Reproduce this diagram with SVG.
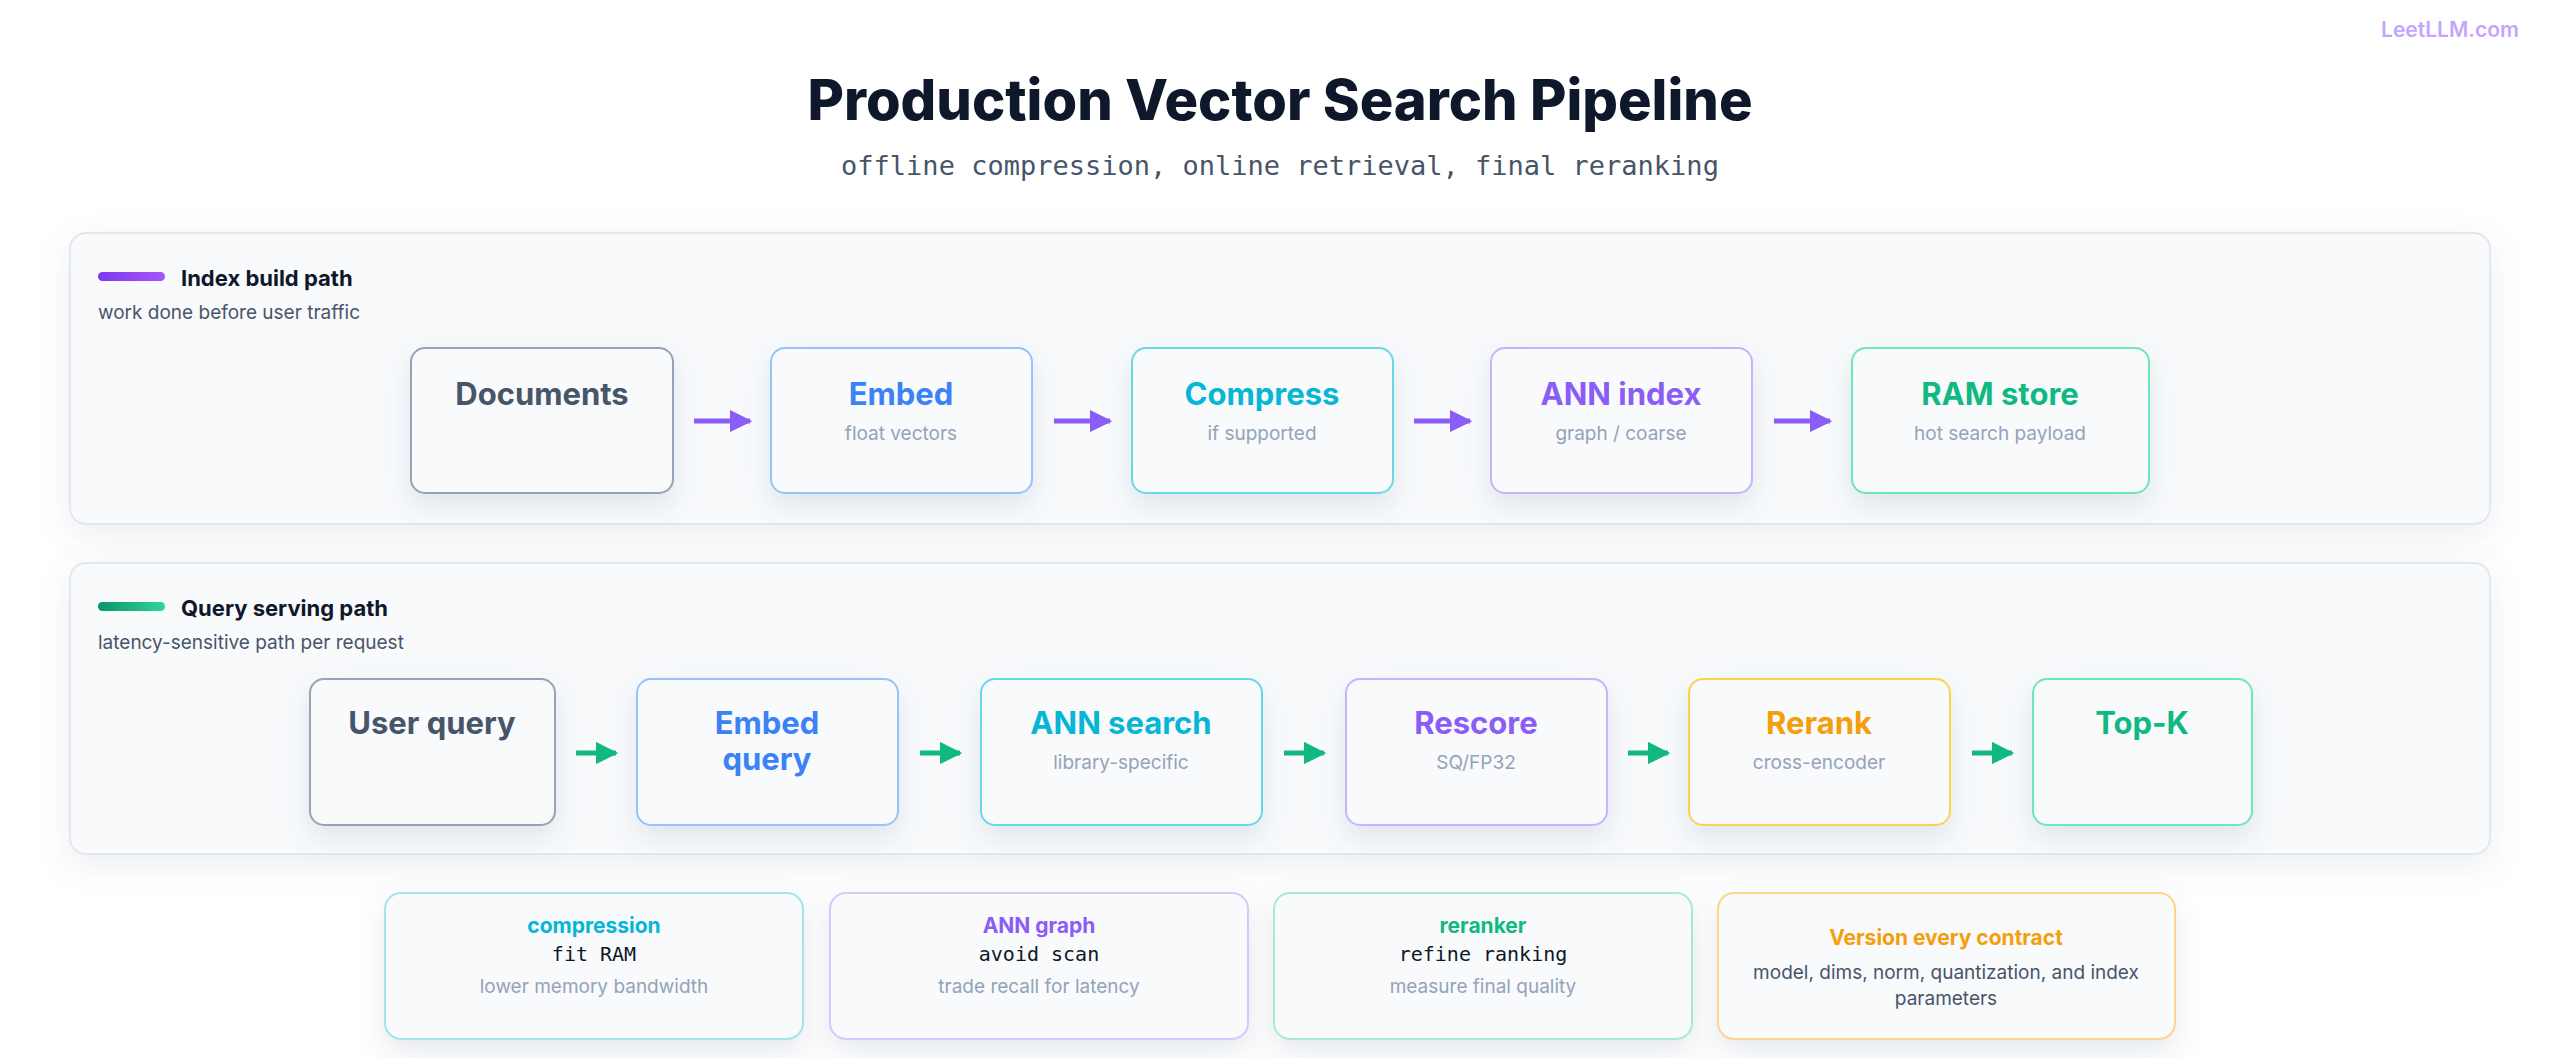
<svg xmlns="http://www.w3.org/2000/svg" width="2560" height="1058" viewBox="0 0 2560 1058">
<defs>
<filter id="sh" x="-20%" y="-20%" width="140%" height="160%"><feDropShadow dx="0" dy="12" stdDeviation="14" flood-color="#64748b" flood-opacity="0.16"/></filter>
<filter id="psh" x="-5%" y="-10%" width="110%" height="130%"><feDropShadow dx="0" dy="10" stdDeviation="16" flood-color="#64748b" flood-opacity="0.12"/></filter>
<linearGradient id="gp" x1="0" x2="1"><stop offset="0" stop-color="#7c3aed"/><stop offset="1" stop-color="#a855f7"/></linearGradient>
<linearGradient id="gg" x1="0" x2="1"><stop offset="0" stop-color="#059669"/><stop offset="1" stop-color="#34d399"/></linearGradient>
<marker id="ap" viewBox="0 0 10 10" refX="9" refY="5" markerWidth="4.5" markerHeight="4.5" orient="auto"><path d="M0,0L10,5L0,10z" fill="#8b5cf6"/></marker>
<marker id="ag" viewBox="0 0 10 10" refX="9" refY="5" markerWidth="4.5" markerHeight="4.5" orient="auto"><path d="M0,0L10,5L0,10z" fill="#10b981"/></marker>
</defs>
<style>
text{font-family:Inter,"Noto Sans","Liberation Sans",sans-serif}
text.mono{font-family:"DejaVu Sans Mono","Liberation Mono",monospace}
.panel{fill:#f8fafc;stroke:#e2e8f0;stroke-width:2}
.node{fill:#f8fafc;stroke-width:2}
.nt{font-size:31px;font-weight:700;text-anchor:middle}
.ns{font-size:19px;fill:#94a3b8;text-anchor:middle}
.lt{font-size:22px;font-weight:700;fill:#0f172a}
.ls{font-size:19px;fill:#475569}
.ct{font-size:21px;font-weight:700;text-anchor:middle}
.cm{font-size:20px;fill:#0f172a;text-anchor:middle}
.cs{font-size:19px;fill:#94a3b8;text-anchor:middle}
.ep{stroke:#8b5cf6;stroke-width:5;marker-end:url(#ap);fill:none}
.eg{stroke:#10b981;stroke-width:5;marker-end:url(#ag);fill:none}
</style>
<rect width="2560" height="1058" fill="#ffffff"/>
<text x="2450" y="37" font-size="21" font-weight="600" fill="#c4a5fd" text-anchor="middle">LeetLLM.com</text>
<text x="1280" y="120" font-size="56" font-weight="800" fill="#0f172a" text-anchor="middle">Production Vector Search Pipeline</text>
<text class="mono" x="1280" y="175" font-size="27" fill="#475569" text-anchor="middle">offline compression, online retrieval, final reranking</text>

<g id="panel-index">
<rect class="panel" x="70" y="233" width="2420" height="291" rx="16" filter="url(#psh)"/>
<rect x="98" y="272" width="67" height="9" rx="4.5" fill="url(#gp)"/>
<text class="lt" x="181" y="286">Index build path</text>
<text class="ls" x="98" y="319">work done before user traffic</text>
</g>
<g id="panel-query">
<rect class="panel" x="70" y="563" width="2420" height="291" rx="16" filter="url(#psh)"/>
<rect x="98" y="602" width="67" height="9" rx="4.5" fill="url(#gg)"/>
<text class="lt" x="181" y="616">Query serving path</text>
<text class="ls" x="98" y="649">latency-sensitive path per request</text>
</g>

<g id="n-documents"><rect class="node" x="411" y="348" width="262" height="145" rx="14" stroke="#94a3b8" filter="url(#sh)"/><text class="nt" x="542" y="405" fill="#475569">Documents</text></g>
<g id="n-embed"><rect class="node" x="771" y="348" width="261" height="145" rx="14" stroke="#93c5fd" filter="url(#sh)"/><text class="nt" x="901" y="405" fill="#3b82f6">Embed</text><text class="ns" x="901" y="440">float vectors</text></g>
<g id="n-compress"><rect class="node" x="1132" y="348" width="261" height="145" rx="14" stroke="#67d8e8" filter="url(#sh)"/><text class="nt" x="1262" y="405" fill="#06b6d4">Compress</text><text class="ns" x="1262" y="440">if supported</text></g>
<g id="n-ann-index"><rect class="node" x="1491" y="348" width="261" height="145" rx="14" stroke="#c4b5fd" filter="url(#sh)"/><text class="nt" x="1621" y="405" fill="#8b5cf6">ANN index</text><text class="ns" x="1621" y="440">graph / coarse</text></g>
<g id="n-ram"><rect class="node" x="1852" y="348" width="297" height="145" rx="14" stroke="#6ee7b7" filter="url(#sh)"/><text class="nt" x="2000" y="405" fill="#10b981">RAM store</text><text class="ns" x="2000" y="440">hot search payload</text></g>

<g id="n-user"><rect class="node" x="310" y="679" width="245" height="146" rx="14" stroke="#94a3b8" filter="url(#sh)"/><text class="nt" x="432" y="734" fill="#475569">User query</text></g>
<g id="n-embedq"><rect class="node" x="637" y="679" width="261" height="146" rx="14" stroke="#93c5fd" filter="url(#sh)"/><text class="nt" x="767" y="734" fill="#3b82f6">Embed</text><text class="nt" x="767" y="770" fill="#3b82f6">query</text></g>
<g id="n-annsearch"><rect class="node" x="981" y="679" width="281" height="146" rx="14" stroke="#67d8e8" filter="url(#sh)"/><text class="nt" x="1121" y="734" fill="#06b6d4">ANN search</text><text class="ns" x="1121" y="769">library-specific</text></g>
<g id="n-rescore"><rect class="node" x="1346" y="679" width="261" height="146" rx="14" stroke="#c4b5fd" filter="url(#sh)"/><text class="nt" x="1476" y="734" fill="#8b5cf6">Rescore</text><text class="ns" x="1476" y="769">SQ/FP32</text></g>
<g id="n-rerank"><rect class="node" x="1689" y="679" width="261" height="146" rx="14" stroke="#fcd34d" filter="url(#sh)"/><text class="nt" x="1819" y="734" fill="#f59e0b">Rerank</text><text class="ns" x="1819" y="769">cross-encoder</text></g>
<g id="n-topk"><rect class="node" x="2033" y="679" width="219" height="146" rx="14" stroke="#6ee7b7" filter="url(#sh)"/><text class="nt" x="2142" y="734" fill="#10b981">Top-K</text></g>

<g id="connectors">
<path class="ep" d="M694 421H750"/>
<path class="ep" d="M1054 421H1110"/>
<path class="ep" d="M1414 421H1470"/>
<path class="ep" d="M1774 421H1830"/>
<path class="eg" d="M576 753H616"/>
<path class="eg" d="M920 753H960"/>
<path class="eg" d="M1284 753H1324"/>
<path class="eg" d="M1628 753H1668"/>
<path class="eg" d="M1972 753H2012"/>
</g>

<g id="c-compression"><rect class="node" x="385" y="893" width="418" height="146" rx="16" stroke="#a5e3ee" filter="url(#sh)"/><text class="ct" x="594" y="933" fill="#06b6d4">compression</text><text class="cm mono" x="594" y="961">fit RAM</text><text class="cs" x="594" y="993">lower memory bandwidth</text></g>
<g id="c-anngraph"><rect class="node" x="830" y="893" width="418" height="146" rx="16" stroke="#d8c8fc" filter="url(#sh)"/><text class="ct" x="1039" y="933" fill="#8b5cf6">ANN graph</text><text class="cm mono" x="1039" y="961">avoid scan</text><text class="cs" x="1039" y="993">trade recall for latency</text></g>
<g id="c-reranker"><rect class="node" x="1274" y="893" width="418" height="146" rx="16" stroke="#a7ecd1" filter="url(#sh)"/><text class="ct" x="1483" y="933" fill="#10b981">reranker</text><text class="cm mono" x="1483" y="961">refine ranking</text><text class="cs" x="1483" y="993">measure final quality</text></g>
<g id="c-version"><rect class="node" x="1718" y="893" width="457" height="146" rx="16" stroke="#fcd68a" filter="url(#sh)"/><text class="ct" x="1946" y="945" fill="#f59e0b" font-size="23">Version every contract</text><text class="ns" x="1946" y="979" style="fill:#475569">model, dims, norm, quantization, and index</text><text class="ns" x="1946" y="1005" style="fill:#475569">parameters</text></g>
</svg>
